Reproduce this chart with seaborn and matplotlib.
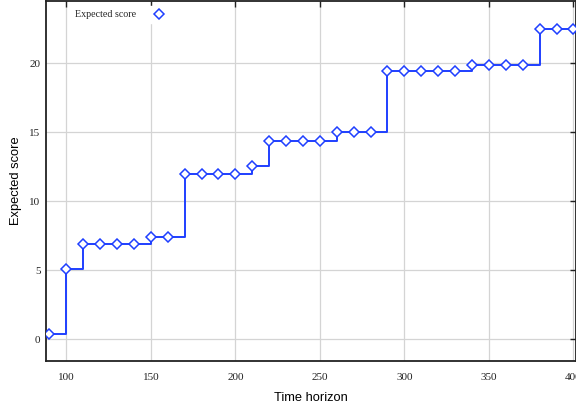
import matplotlib
matplotlib.use("Agg")
import matplotlib.pyplot as plt
import seaborn as sns
import pandas as pd
from matplotlib.lines import Line2D

horizon = [90, 100, 110, 120, 130, 140, 150, 160, 170, 180, 190, 200, 210, 220,
           230, 240, 250, 260, 270, 280, 290, 300, 310, 320, 330, 340, 350, 360,
           370, 380, 390, 400]
score = [0.38, 5.07, 6.88, 6.88, 6.88, 6.88, 7.43, 7.43, 12.0, 12.0, 12.0, 12.0,
         12.58, 14.35, 14.35, 14.35, 14.35, 15.0, 15.0, 15.0, 19.45, 19.45, 19.45,
         19.45, 19.45, 19.85, 19.85, 19.85, 19.85, 22.5, 22.5, 22.5]
x_ticks = [100, 150, 200, 250, 300, 350, 400]
y_ticks = [0, 5, 10, 15, 20]
series_label = "Expected score"

sns.set_theme(style="white")
plt.rcParams['font.family'] = ['Liberation Serif', 'DejaVu Serif']

BLUE = "#1f3fff"
df = pd.DataFrame({"Time horizon": horizon, "Expected score": score})

fig = plt.figure(figsize=(5.76, 4.13), dpi=100)
ax = fig.add_axes([46/576, 1 - 361/413, 1 - 46/576, (361 - 1)/413])

sns.lineplot(data=df, x="Time horizon", y="Expected score", ax=ax,
             drawstyle="steps-post", color=BLUE, linewidth=1.4,
             marker="D", markersize=4.6, markerfacecolor="white",
             markeredgecolor=BLUE, markeredgewidth=1.1, legend=False, zorder=3)

ax.set_xlim(88, 401.5)
ax.set_ylim(-1.57, 24.5)
ax.set_xticks(x_ticks)
ax.set_yticks(y_ticks)
ax.grid(True, color="#d4d4d4", linewidth=0.9)
ax.set_axisbelow(True)

for side in ["left", "bottom", "top", "right"]:
    ax.spines[side].set_visible(True)
    ax.spines[side].set_color("#222222")
    ax.spines[side].set_linewidth(1.3)

ax.tick_params(axis="both", which="both", direction="in", length=4, width=1,
               color="#222222", labelsize=8, top=True, right=True,
               labelcolor="#222222")
ax.tick_params(axis="x", pad=9)
ax.tick_params(axis="y", pad=4)

ax.set_xlabel("Time horizon", family=["Liberation Sans", "DejaVu Sans"],
              fontsize=9.3, labelpad=7, color="black")
ax.set_ylabel("Expected score", family=["Liberation Sans", "DejaVu Sans"],
              fontsize=9.3, labelpad=5, color="black")

handle = Line2D([], [], linestyle="none", marker="D", markersize=4.6,
                markerfacecolor="white", markeredgecolor=BLUE, markeredgewidth=1.1)
leg = ax.legend(handles=[handle], labels=[series_label], loc="upper left",
                bbox_to_anchor=(20/530, 1.0), markerfirst=False, frameon=True,
                fontsize=7.2, handlelength=1.5, handletextpad=1.5,
                borderpad=0.4, fancybox=False)
leg.get_frame().set_facecolor("white")
leg.get_frame().set_edgecolor("white")
leg.get_frame().set_alpha(1)

fig.savefig("out.png", dpi=100)
